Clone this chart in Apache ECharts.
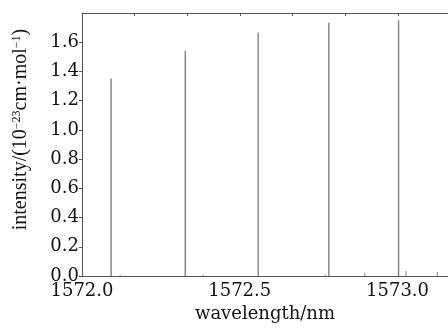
<!DOCTYPE html>
<html>
<head>
<meta charset="utf-8">
<script src="https://cdn.jsdelivr.net/npm/echarts@6/dist/echarts.min.js"></script>
<style>
	html, body { margin: 0; padding: 0; background: #fff; }
	#chart { width: 448px; height: 328px; }
</style>
</head>
<body>
<div id="chart"></div>
<script>
// main absorption lines (wavelength nm, intensity)
const lineWavelengths = [1572.092, 1572.327, 1572.558, 1572.782, 1573.003]
const lineIntensities = [1.352, 1.541, 1.666, 1.734, 1.750]
// weak lines near the baseline
const weakWavelengths = [1572.121, 1572.384, 1572.771, 1572.896, 1573.027, 1573.126]
const weakIntensities = [0.008, 0.010, 0.012, 0.020, 0.034, 0.027]

const serif = 'DejaVu Serif'
const axisColor = '#555'

const chart = echarts.init(document.getElementById('chart'))

const option = {
	animation: false,
	backgroundColor: '#fff',
	grid: { left: 82, top: 13, right: 0, bottom: 52, outerBoundsMode: 'none' },
	xAxis: [
		{
			type: 'value',
			min: 1572.0,
			max: 1573.16,
			interval: 0.5,
			name: 'wavelength/nm',
			nameLocation: 'middle',
			nameGap: 28,
			nameTextStyle: { fontFamily: serif, fontSize: 18, color: '#111' },
			axisLine: { lineStyle: { color: axisColor, width: 1 } },
			axisTick: { show: false },
			splitLine: { show: false },
			axisLabel: {
				fontFamily: serif, fontSize: 18, color: '#111', margin: 6,
				showMaxLabel: false,
				formatter: v => v.toFixed(1)
			}
		},
		{
			// top frame with its own evenly spaced ticks
			type: 'value',
			position: 'top',
			min: 0,
			max: 6.95,
			interval: 1,
			axisLine: { show: true, lineStyle: { color: axisColor, width: 1 } },
			axisTick: { show: true, inside: true, length: 3, lineStyle: { color: axisColor } },
			axisLabel: { show: false },
			splitLine: { show: false }
		}
	],
	yAxis: {
		type: 'value',
		min: 0,
		max: 1.8,
		interval: 0.2,
		name: '{t|intensity/(10}{s|−23}{t|cm·mol}{s|−1}{t|)}',
		nameLocation: 'middle',
		nameGap: 51,
		nameRotate: 90,
		nameTextStyle: {
			padding: [0, 0, 0, 30],
			rich: {
				t: { fontFamily: 'Liberation Serif', fontSize: 20, color: '#111' },
				s: { fontFamily: 'Liberation Serif', fontSize: 12, color: '#111', verticalAlign: 'top', padding: [0, 0, 8, 0] }
			}
		},
		axisLine: { show: true, lineStyle: { color: axisColor, width: 1 } },
		axisTick: { show: true, length: 3, lineStyle: { color: axisColor } },
		splitLine: { show: false },
		axisLabel: {
			fontFamily: serif, fontSize: 18, color: '#111', margin: 3,
			showMaxLabel: false,
			formatter: v => v.toFixed(1)
		}
	},
	series: [
		{
			type: 'bar',
			barWidth: 1.4,
			itemStyle: { color: '#808080' },
			data: lineWavelengths.map((w, i) => [w, lineIntensities[i]])
		},
		{
			type: 'bar',
			barWidth: 1.2,
			barGap: '-100%',
			itemStyle: { color: '#9a9a9a' },
			data: weakWavelengths.map((w, i) => [w, weakIntensities[i]])
		}
	]
}

chart.setOption(option)
</script>
</body>
</html>
